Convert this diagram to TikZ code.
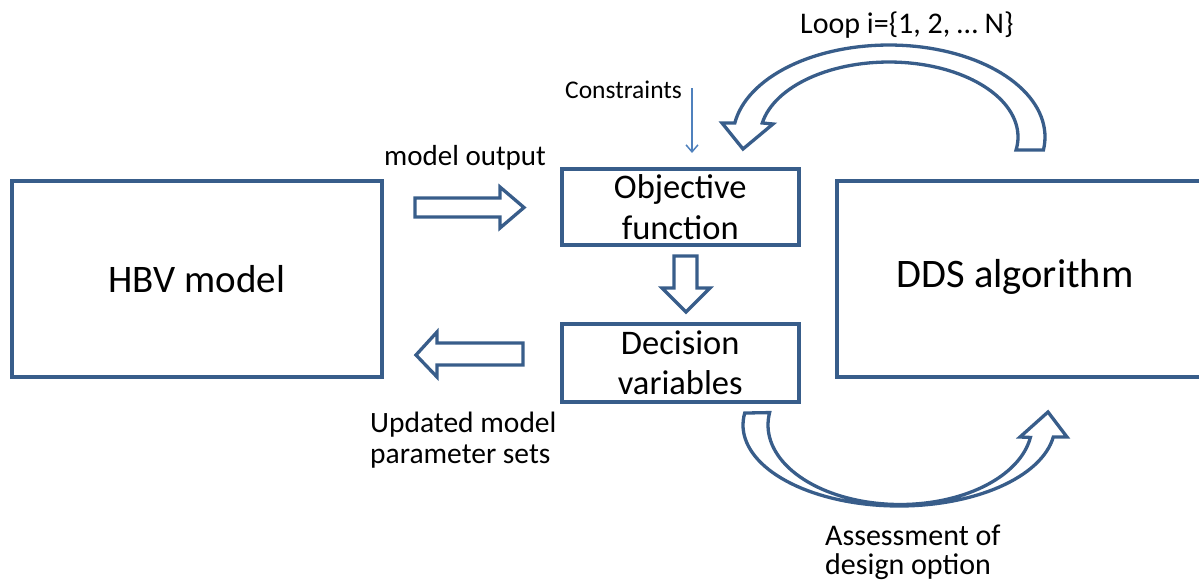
\documentclass[tikz,border=0pt]{standalone}
\usepackage{fontspec}
\setmainfont{Carlito}
\usetikzlibrary{arrows.meta}
\definecolor{outl}{HTML}{385D8A}
\definecolor{thinblue}{HTML}{4F81BD}
\begin{document}
\begin{tikzpicture}[x=1pt,y=-1pt,
  box/.style={draw=outl, line width=3.5pt, fill=white, inner sep=0pt},
  blk/.style={draw=outl, line width=3.3pt, fill=white, line join=miter},
  lbl/.style={font=\fontsize{30}{30}\selectfont, inner sep=0pt},
  small/.style={font=\fontsize{25.5}{28}\selectfont, inner sep=0pt},
  thinarrow/.style={draw=thinblue, line width=1.5pt, -{Straight Barb[length=7pt,width=12pt,line width=1.5pt]}}
]
\useasboundingbox (0,0) rectangle (1199,582);

% boxes
\node[box, minimum width=370pt, minimum height=196pt, anchor=north west,
      font=\fontsize{39}{44}\selectfont] (hbv) at (10,179) {HBV model};
\node[box, minimum width=390pt, minimum height=196pt, anchor=north west] (dds) at (835,179) {};
\node[font=\fontsize{40.5}{44}\selectfont, inner sep=0pt] (ddstext) at (1015,277) {DDS algorithm};
\node[box, minimum width=237pt, minimum height=76pt, anchor=north west, align=center,
      font=\fontsize{34.5}{41}\selectfont] (obj) at (560,167) {Objective\\function};
\node[box, minimum width=237pt, minimum height=78pt, anchor=north west, align=center,
      font=\fontsize{34.5}{40}\selectfont] (dec) at (560,322) {Decision\\variables};

% block arrows
\draw[blk] (415,198) -- (500,198) -- (500,187) -- (524,207.5) -- (500,228) -- (500,217) -- (415,217) -- cycle;
\draw[blk] (523,343) -- (437,343) -- (437,332) -- (416,355) -- (437,377) -- (437,365) -- (523,365) -- cycle;
\draw[blk] (674,256) -- (697,256) -- (697,288) -- (710,288) -- (686,312) -- (662,288) -- (674,288) -- cycle;

% curved arrow on top (loop)
\draw[blk] plot[domain=8.1:-171.25, samples=70] ({889+156*cos(\x)},{137+92*sin(\x)})
  -- (722,123) -- (743,149) -- (773,124)
  -- plot[domain=-169.2:10, samples=70] ({889+129*cos(\x)},{137+75*sin(\x)}) -- cycle;

% curved arrow at bottom (assessment)
\draw[blk] plot[domain=188.5:8.5, samples=70] ({899+156*cos(\x)},{425+81*sin(\x)})
  -- (1067,437) -- (1048,412) -- (1020,437)
  -- plot[domain=9:189, samples=70] ({900+132*cos(\x)},{425+79.5*sin(\x)}) -- cycle;

% labels
\node[lbl, anchor=base west, font=\fontsize{29}{30}\selectfont] (mo) at (384,165) {model output};
\node[small, anchor=base west] (con) at (565,98) {Constraints};
\node[lbl, anchor=base west] (loop) at (800,33) {Loop i=\{1, 2, … N\}};
\node[lbl, anchor=west, align=left, font=\fontsize{29.5}{31}\selectfont] (upd) at (370,440) {Updated model\\parameter sets};
\node[lbl, anchor=west, align=left, font=\fontsize{30}{29}\selectfont] (ass) at (825,552) {Assessment of\\design option};

% constraints arrow
\coordinate (c1) at (692,88);
\coordinate (c2) at (692,153);
\draw[thinarrow] (c1) -- (c2);
\end{tikzpicture}
\end{document}
